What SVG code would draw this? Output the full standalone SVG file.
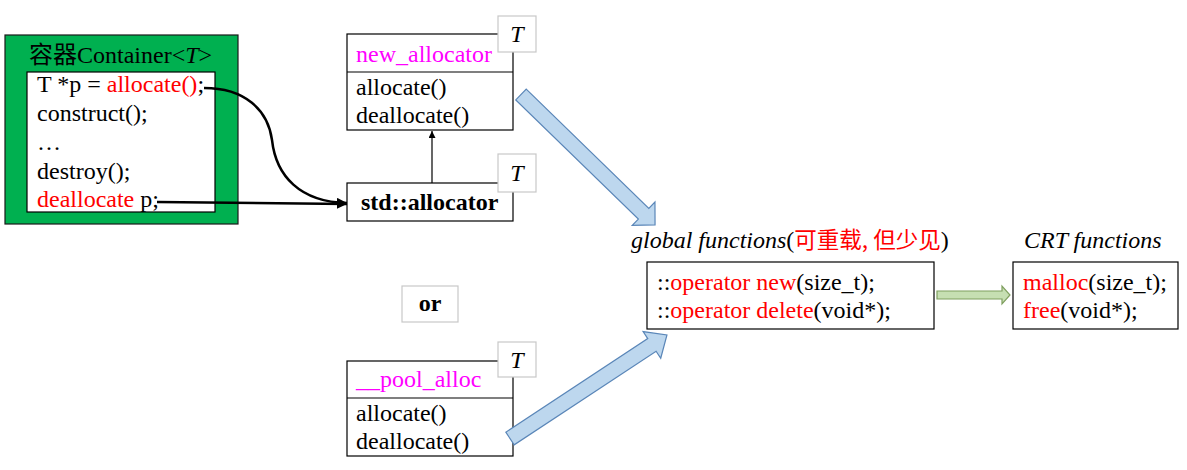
<svg xmlns="http://www.w3.org/2000/svg" width="1187" height="470" viewBox="0 0 1187 470">
<defs>
<style>
text{font-family:"Liberation Serif","Times New Roman",Tinos,"DejaVu Serif",serif;font-size:24px;fill:#000}
.r{fill:#ff0000}
.m{fill:#ff00ff}
.i{font-style:italic}
.b{font-weight:bold}
.box{fill:#fff;stroke:#000;stroke-width:1.2}
.tb{fill:#fff;stroke:#c8c8c8;stroke-width:1.2}
.cjk{font-family:"Noto Sans CJK SC",sans-serif}
.cjkr{font-family:"Noto Sans CJK SC",sans-serif;font-size:22.5px}
.blue{fill:#bdd7ee;stroke:#5a86b8;stroke-width:1.2}
</style>
<marker id="ah" viewBox="0 0 10 10" refX="10" refY="5" markerWidth="10" markerHeight="10" markerUnits="userSpaceOnUse" orient="auto"><path d="M0,0 L10,5 L0,10 Z" fill="#000"/></marker>
<marker id="ahs" viewBox="0 0 10 10" refX="10" refY="5" markerWidth="7" markerHeight="7" markerUnits="userSpaceOnUse" orient="auto"><path d="M0,0 L10,5 L0,10 Z" fill="#000"/></marker>
</defs>

<g id="container">
<rect x="5" y="35" width="233" height="189" fill="#00b050" stroke="#1a1a1a" stroke-width="1.2"/>
<text x="29" y="63"><tspan class="cjk">容器</tspan>Container&lt;<tspan class="i">T</tspan>&gt;</text>
<rect class="box" x="27" y="72" width="188" height="140"/>
<text x="37" y="92">T *p = <tspan class="r">allocate()</tspan>;</text>
<text x="37" y="121">construct();</text>
<text x="37" y="150">…</text>
<text x="37" y="179">destroy();</text>
<text x="37" y="207"><tspan class="r">deallocate</tspan> p;</text>
</g>

<g id="new_allocator">
<rect class="box" x="347" y="34" width="166" height="96"/>
<line x1="347" y1="72" x2="513" y2="72" stroke="#000" stroke-width="1.2"/>
<text class="m" x="356" y="62">new_allocator</text>
<text x="356" y="95">allocate()</text>
<text x="356" y="123">deallocate()</text>
<rect class="tb" x="498" y="16" width="38" height="36"/>
<text class="i" x="517" y="42" text-anchor="middle">T</text>
</g>

<g id="std_allocator">
<rect class="box" x="347" y="183" width="166" height="38"/>
<text class="b" x="361" y="210">std::allocator</text>
<rect class="tb" x="498" y="154" width="38" height="38"/>
<text class="i" x="517" y="181" text-anchor="middle">T</text>
</g>

<g id="or">
<rect class="tb" x="402" y="286" width="56" height="36"/>
<text class="b" x="430" y="311" text-anchor="middle">or</text>
</g>

<g id="pool_alloc">
<rect class="box" x="347" y="361" width="166" height="95"/>
<line x1="347" y1="398" x2="513" y2="398" stroke="#000" stroke-width="1.2"/>
<text class="m" x="356" y="387">__pool_alloc</text>
<text x="356" y="421">allocate()</text>
<text x="356" y="449">deallocate()</text>
<rect class="tb" x="498" y="342" width="38" height="35"/>
<text class="i" x="517" y="368" text-anchor="middle">T</text>
</g>

<g id="global_functions">
<text x="631" y="248"><tspan class="i">global functions</tspan>(<tspan class="r cjkr">可重载, 但少见</tspan>)</text>
<rect class="box" x="647" y="262" width="287" height="67"/>
<text x="657" y="290">::<tspan class="r">operator new</tspan>(size_t);</text>
<text x="657" y="318">::<tspan class="r">operator delete</tspan>(void*);</text>
</g>

<g id="crt_functions">
<text class="i" x="1024" y="248">CRT functions</text>
<rect class="box" x="1013" y="262" width="165" height="67"/>
<text x="1023" y="290"><tspan class="r">malloc</tspan>(size_t);</text>
<text x="1023" y="318"><tspan class="r">free</tspan>(void*);</text>
</g>

<g id="connectors">
<path d="M204,88 C245,88 268,110 272,140 C276,176 300,202 347,203" fill="none" stroke="#000" stroke-width="2.5" marker-end="url(#ah)"/>
<path d="M157,202 L347,204" fill="none" stroke="#000" stroke-width="2.5" marker-end="url(#ah)"/>
<line x1="432" y1="183" x2="432" y2="131" stroke="#000" stroke-width="1.2" marker-end="url(#ahs)"/>
<polygon class="blue" transform="translate(521,94.5) rotate(44.2)" points="0,-7.5 171,-7.5 171,-16.3 187,0 171,16.3 171,7.5 0,7.5"/>
<polygon class="blue" transform="translate(510,438.5) rotate(-33.4)" points="0,-7.6 170,-7.6 170,-16 188,0 170,16 170,7.6 0,7.6"/>
<polygon points="937,291 1002,291 1002,286 1010,295 1002,304 1002,299 937,299" fill="#c6dfb2" stroke="#7f9f5f" stroke-width="1.2"/>
</g>
</svg>
